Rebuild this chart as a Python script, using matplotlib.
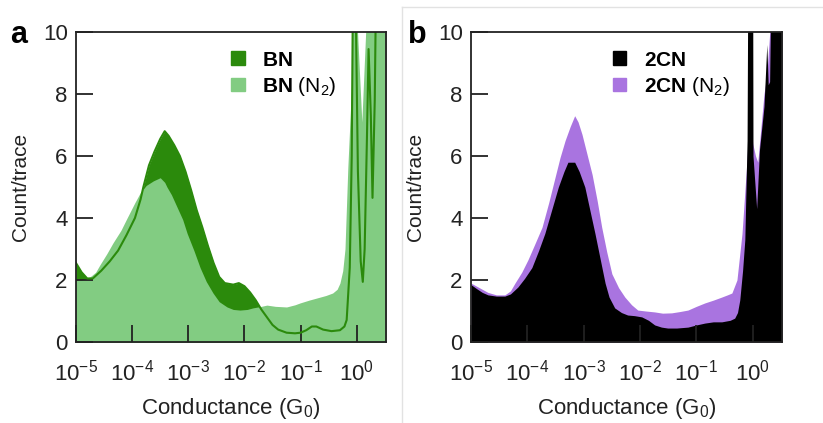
import matplotlib
matplotlib.use("Agg")
import matplotlib.pyplot as plt
from matplotlib.patches import Patch
from matplotlib.lines import Line2D
from matplotlib.ticker import NullLocator
import numpy as np

plt.rcParams['font.family'] = ['Liberation Sans', 'DejaVu Sans']
plt.rcParams['mathtext.fontset'] = 'custom'
plt.rcParams['mathtext.rm'] = 'Liberation Sans'
plt.rcParams['mathtext.it'] = 'Liberation Sans:italic'
plt.rcParams['mathtext.bf'] = 'Liberation Sans:bold'

# log10(G/G0) et count/trace (valeurs > 10 : hors cadre)
bn_logg = [-5.00, -4.90, -4.80, -4.70, -4.55, -4.40, -4.25, -4.10, -3.95, -3.85,
           -3.80, -3.70, -3.60, -3.50, -3.42, -3.35, -3.25, -3.15, -3.05, -2.95,
           -2.85, -2.75, -2.65, -2.55, -2.45, -2.35, -2.20, -2.10, -2.00, -1.90,
           -1.80, -1.70, -1.60, -1.50, -1.40, -1.25, -1.10, -1.00, -0.90, -0.80,
           -0.72, -0.60, -0.45, -0.30, -0.22, -0.18, -0.125, -0.09, -0.07, -0.02,
           0.02, 0.07, 0.107, 0.14, 0.18, 0.21, 0.25, 0.28, 0.32, 0.34, 0.52]
bn_count = [2.55, 2.25, 2.05, 2.05, 2.30, 2.60, 2.95, 3.45, 4.00, 4.60,
            5.00, 5.70, 6.15, 6.55, 6.80, 6.65, 6.35, 6.00, 5.50, 4.90,
            4.25, 3.70, 3.10, 2.55, 2.10, 1.90, 1.85, 1.90, 1.80, 1.60,
            1.35, 1.05, 0.80, 0.55, 0.40, 0.30, 0.28, 0.30, 0.38, 0.50,
            0.50, 0.40, 0.35, 0.38, 0.50, 0.71, 2.40, 6.00, 11.0, 11.0,
            5.50, 2.60, 1.94, 3.00, 6.50, 9.45, 7.30, 4.65, 7.80, 11.0, 11.0]

bn_n2_logg = [-5.00, -4.90, -4.75, -4.65, -4.57, -4.45, -4.34, -4.20, -4.09, -3.95,
              -3.86, -3.75, -3.62, -3.50, -3.42, -3.38, -3.30, -3.20, -3.10, -3.02,
              -2.90, -2.79, -2.68, -2.56, -2.45, -2.31, -2.20, -2.08, -1.95, -1.85,
              -1.70, -1.60, -1.45, -1.25, -1.10, -1.01, -0.85, -0.71, -0.55, -0.43,
              -0.35, -0.30, -0.25, -0.21, -0.16, -0.12, -0.09, -0.07, 0.00, 0.09,
              0.17, 0.52]
bn_n2_count = [2.00, 2.00, 2.10, 2.25, 2.50, 2.85, 3.20, 3.60, 4.00, 4.50,
               4.80, 5.05, 5.20, 5.30, 5.15, 5.00, 4.75, 4.35, 3.95, 3.50,
               2.95, 2.40, 1.95, 1.58, 1.30, 1.13, 1.05, 1.03, 1.05, 1.10,
               1.15, 1.19, 1.15, 1.13, 1.20, 1.26, 1.35, 1.42, 1.50, 1.58,
               1.70, 1.90, 2.30, 3.00, 5.60, 7.20, 8.40, 11.0, 10.5, 7.10,
               10.5, 11.0]

cn_logg = [-5.00, -4.90, -4.80, -4.70, -4.55, -4.40, -4.30, -4.17, -4.05, -3.92,
           -3.80, -3.69, -3.57, -3.45, -3.35, -3.28, -3.16, -3.08, -2.98, -2.89,
           -2.80, -2.71, -2.62, -2.55, -2.45, -2.33, -2.22, -2.10, -1.97, -1.85,
           -1.74, -1.62, -1.51, -1.35, -1.15, -1.00, -0.85, -0.70, -0.55, -0.40,
           -0.32, -0.27, -0.23, -0.18, -0.14, -0.10, -0.089, 0.00, 0.005, 0.07,
           0.12, 0.20, 0.25, 0.275, 0.30, 0.32, 0.52]
cn_count = [1.85, 1.72, 1.60, 1.52, 1.48, 1.48, 1.55, 1.77, 2.05, 2.40,
            2.95, 3.50, 4.25, 5.00, 5.50, 5.80, 5.80, 5.50, 5.00, 4.25,
            3.50, 2.70, 1.90, 1.45, 1.10, 0.95, 0.87, 0.85, 0.81, 0.70,
            0.55, 0.48, 0.45, 0.45, 0.48, 0.55, 0.61, 0.65, 0.65, 0.70,
            0.77, 0.95, 1.35, 2.30, 3.30, 6.50, 11.0, 11.0, 6.00, 4.30,
            6.20, 7.60, 9.60, 8.30, 8.40, 11.0, 11.0]

cn_n2_logg = [-5.00, -4.85, -4.70, -4.55, -4.40, -4.30, -4.22, -4.10, -3.99, -3.87,
              -3.74, -3.62, -3.51, -3.42, -3.33, -3.24, -3.16, -3.10, -3.03, -2.94,
              -2.85, -2.76, -2.68, -2.59, -2.50, -2.38, -2.27, -2.15, -2.04, -1.90,
              -1.74, -1.60, -1.44, -1.30, -1.15, -1.00, -0.85, -0.70, -0.55, -0.45,
              -0.37, -0.28, -0.19, -0.11, -0.05, 0.00, 0.05, 0.09, 0.20, 0.25,
              0.34, 0.52]
cn_n2_count = [1.90, 1.75, 1.60, 1.52, 1.52, 1.65, 1.90, 2.25, 2.65, 3.15,
               3.70, 4.50, 5.30, 5.95, 6.50, 6.95, 7.30, 7.10, 6.70, 6.05,
               5.40, 4.55, 3.70, 2.90, 2.20, 1.75, 1.45, 1.20, 1.03, 1.00,
               0.97, 0.93, 0.94, 0.98, 1.03, 1.15, 1.26, 1.35, 1.45, 1.52,
               1.58, 2.00, 3.50, 5.65, 7.60, 6.40, 6.00, 5.80, 8.00, 8.60,
               11.0, 11.0]

x_ticks = [1e-5, 1e-4, 1e-3, 1e-2, 1e-1, 1e0]
y_ticks = [0, 2, 4, 6, 8, 10]

vert_fonce = "#2b8a0c"
vert_clair = "#82cc82"
violet = "#a974e0"


def regle_axe(ax):
    ax.set_xscale("log")
    ax.set_xlim(1e-5, 10 ** 0.52)
    ax.set_ylim(0, 10)
    ax.set_xticks(x_ticks)
    ax.xaxis.set_minor_locator(NullLocator())
    ax.set_yticks(y_ticks)
    ax.tick_params(direction="in", length=12, width=1.3, labelsize=16,
                   colors="#222222")
    ax.tick_params(axis="x", pad=13)
    ax.tick_params(axis="y", pad=6)
    for sp in ax.spines.values():
        sp.set_linewidth(1.3)
        sp.set_color("#222222")
    ax.set_xlabel("Conductance (G$_0$)", fontsize=16, color="#222222")
    ax.set_ylabel("Count/trace", fontsize=15, color="#222222")
    ax.xaxis.label.set_va("center")
    ax.yaxis.label.set_va("center")
    ax.xaxis.set_label_coords(0.5, -0.213)
    ax.yaxis.set_label_coords(-0.178, 0.5)


fig = plt.figure(figsize=(8.23, 4.23), dpi=100)
ax_a = fig.add_axes([0.0923, 0.1915, 0.3767, 0.7328])
ax_b = fig.add_axes([0.5723, 0.1915, 0.3779, 0.7328])

# Panneau a : BN
x = 10 ** np.array(bn_logg)
x2 = 10 ** np.array(bn_n2_logg)
ax_a.fill_between(x, 0, bn_count, color=vert_fonce, linewidth=0)
ax_a.fill_between(x2, 0, bn_n2_count, color=vert_clair, linewidth=0)
ax_a.plot(x, bn_count, color=vert_fonce, linewidth=1.5)
regle_axe(ax_a)
ax_a.legend(handles=[Patch(color=vert_fonce), Patch(color=vert_clair)],
            labels=[r"$\mathbf{BN}$", r"$\mathbf{BN}$ (N$_2$)"],
            loc="upper left", bbox_to_anchor=(0.50, 0.94), frameon=False,
            fontsize=15, handlelength=0.65, handleheight=0.65,
            handletextpad=0.85, labelspacing=0.25, borderpad=0, borderaxespad=0)

# Panneau b : 2CN
x = 10 ** np.array(cn_logg)
x2 = 10 ** np.array(cn_n2_logg)
ax_b.fill_between(x2, 0, cn_n2_count, color=violet, linewidth=0)
ax_b.fill_between(x, 0, cn_count, color="black", linewidth=0)
regle_axe(ax_b)
ax_b.legend(handles=[Patch(color="black"), Patch(color=violet)],
            labels=[r"$\mathbf{2CN}$", r"$\mathbf{2CN}$ (N$_2$)"],
            loc="upper left", bbox_to_anchor=(0.455, 0.94), frameon=False,
            fontsize=15, handlelength=0.65, handleheight=0.65,
            handletextpad=0.85, labelspacing=0.25, borderpad=0, borderaxespad=0)

# Lettres des panneaux
fig.text(0.012, 0.898, "a", fontsize=22, fontweight="bold", va="baseline")
fig.text(0.496, 0.898, "b", fontsize=22, fontweight="bold", va="baseline")

# Cadre gris clair autour du panneau b
xg = 402 / 823
yg = 1 - 7 / 423
fig.add_artist(Line2D([xg, xg], [0, yg], color="#e2e2e2", linewidth=1))
fig.add_artist(Line2D([xg, 1], [yg, yg], color="#e2e2e2", linewidth=1))

fig.savefig("out.png", dpi=100)
